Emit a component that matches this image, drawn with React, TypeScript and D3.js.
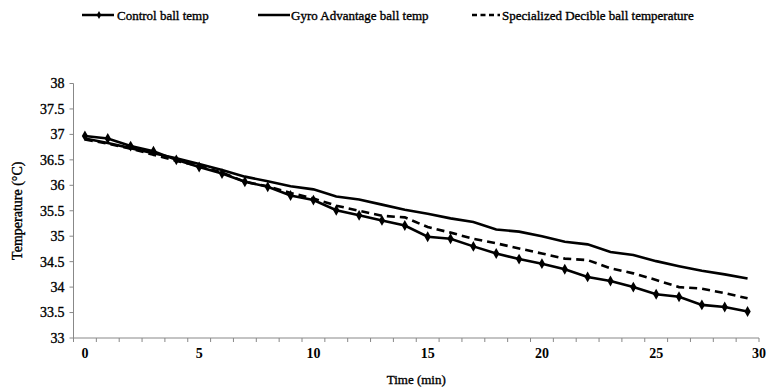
import React from 'react'
import * as d3 from 'd3'

// minutes 0..29
const minutes = d3.range(0, 30)

const controlTemp = [
  36.97, 36.92, 36.77, 36.67, 36.5, 36.36, 36.23, 36.07, 35.97, 35.8,
  35.71, 35.51, 35.41, 35.31, 35.21, 34.99, 34.95, 34.8, 34.66, 34.55,
  34.46, 34.35, 34.2, 34.12, 34.0, 33.86, 33.81, 33.65, 33.61, 33.52
]

const gyroTemp = [
  36.92, 36.83, 36.73, 36.63, 36.53, 36.42, 36.3, 36.17, 36.08, 35.98,
  35.92, 35.78, 35.72, 35.62, 35.52, 35.44, 35.35, 35.28, 35.13, 35.09,
  35.0, 34.89, 34.84, 34.69, 34.63, 34.51, 34.41, 34.32, 34.25, 34.17
]

const specializedTemp = [
  36.9, 36.82, 36.72, 36.6, 36.48, 36.38, 36.25, 36.07, 35.98, 35.85,
  35.74, 35.6, 35.5, 35.4, 35.37, 35.18, 35.07, 34.95, 34.86, 34.76,
  34.66, 34.56, 34.53, 34.37, 34.27, 34.14, 34.0, 33.97, 33.88, 33.78
]

const yTicks = d3.range(33, 38.01, 0.5)
const xTickLabels = [0, 5, 10, 15, 20, 25, 30]

const FONT = "'Liberation Serif', 'Times New Roman', serif"

// slight outline to mimic the heavy scanned text
const heavy = { stroke: '#000', strokeWidth: 0.35 }

const App: React.FC = () => {
  const width = 768
  const height = 392
  const left = 73.5
  const right = 759
  const top = 83.5
  const bottom = 338

  const x = d3.scaleLinear().domain([-0.5, 29.5]).range([left, right])
  const y = d3.scaleLinear().domain([33, 38]).range([bottom, top])

  const line = (vals: number[]) =>
    d3
      .line<number>()
      .x((_, i) => x(minutes[i]))
      .y((d) => y(d))(vals) || ''

  const diamond = d3.symbol().type(d3.symbolDiamond).size(34)()
  const legendDiamond = d3.symbol().type(d3.symbolDiamond).size(18)()
  const catEdges = d3.range(0, 31).map((i) => i - 0.5)

  return (
    <svg
      width={width}
      height={height}
      style={{ position: 'absolute', left: 0, top: 0, background: '#fff', fontFamily: FONT }}
    >
      {/* legend */}
      <g fontSize={13} fill="#000" style={{ fontFamily: FONT }}>
        <line x1={82} x2={114} y1={15} y2={15} stroke="#000" strokeWidth={2.5} />
        <path d={legendDiamond} transform="translate(99,15)" fill="#000" />
        <text x={117} y={19.5} {...heavy}>Control ball temp</text>
        <line x1={258} x2={290} y1={15} y2={15} stroke="#000" strokeWidth={2.5} />
        <text x={291} y={19.5} {...heavy}>Gyro Advantage ball temp</text>
        <line
          x1={472}
          x2={500}
          y1={15}
          y2={15}
          stroke="#000"
          strokeWidth={2.5}
          strokeDasharray="5,3.5"
        />
        <text x={502} y={19.5} {...heavy}>Specialized Decible ball temperature</text>
      </g>

      {/* y axis */}
      <line x1={left} x2={left} y1={top} y2={bottom} stroke="#888" />
      {yTicks.map((t) => (
        <g key={t}>
          <line x1={left - 4} x2={left} y1={y(t)} y2={y(t)} stroke="#888" />
          <text
            x={left - 9}
            y={y(t)}
            dy="0.35em"
            textAnchor="end"
            fontSize={14}
            fill="#000"
            {...heavy}
          >
            {d3.format('')(t)}
          </text>
        </g>
      ))}
      <text
        transform={`translate(22,${(top + bottom) / 2}) rotate(-90)`}
        textAnchor="middle"
        fontSize={14}
        fill="#000"
        {...heavy}
      >
        Temperature (°C)
      </text>

      {/* x axis */}
      <line x1={left} x2={right} y1={bottom} y2={bottom} stroke="#888" />
      {catEdges.map((e) => (
        <line key={e} x1={x(e)} x2={x(e)} y1={bottom} y2={bottom + 4} stroke="#888" />
      ))}
      {xTickLabels.map((t) => (
        <text
          key={t}
          x={x(Math.min(t, 29.5))}
          y={358}
          textAnchor="middle"
          fontSize={14}
          fontWeight="bold"
          fill="#000"
        >
          {t}
        </text>
      ))}
      <text x={(left + right) / 2} y={384} textAnchor="middle" fontSize={13} fill="#000" {...heavy}>
        Time (min)
      </text>

      {/* series */}
      <path d={line(gyroTemp)} fill="none" stroke="#000" strokeWidth={2.6} />
      <path
        d={line(specializedTemp)}
        fill="none"
        stroke="#000"
        strokeWidth={2.6}
        strokeDasharray="8,5"
      />
      <path d={line(controlTemp)} fill="none" stroke="#000" strokeWidth={2.6} />
      {controlTemp.map((v, i) => (
        <path key={i} d={diamond} transform={`translate(${x(minutes[i])},${y(v)})`} fill="#000" />
      ))}
    </svg>
  )
}

export default App
